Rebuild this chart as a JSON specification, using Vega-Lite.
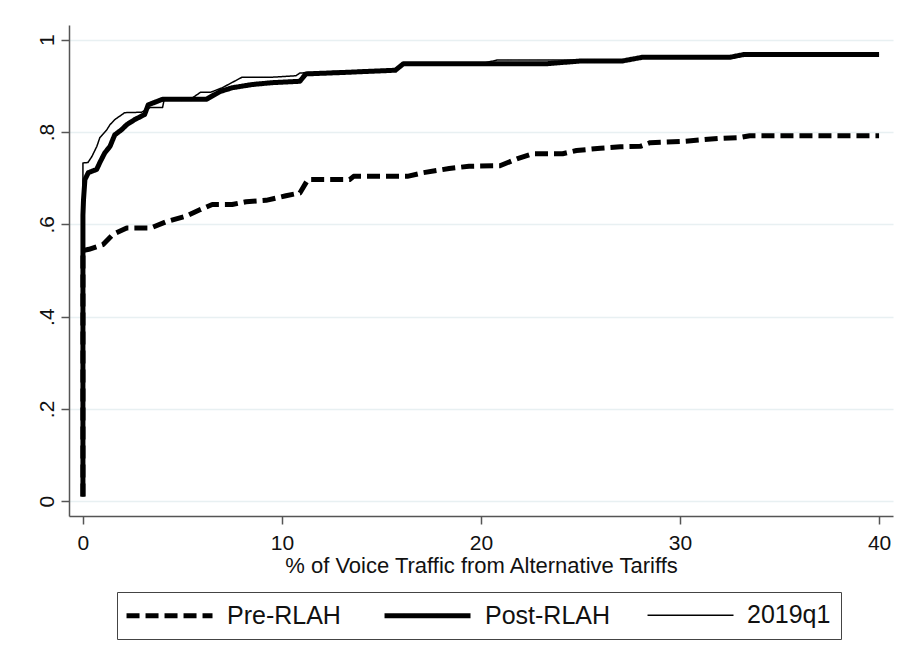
{
  "$schema": "https://vega.github.io/schema/vega-lite/v6.json",
  "width": 824,
  "height": 491,
  "autosize": {"type": "none"},
  "padding": {"left": 69, "top": 25, "right": 24, "bottom": 152},
  "background": "white",
  "config": {
    "font": "Liberation Sans",
    "view": {"stroke": null},
    "axis": {
      "domainColor": "#555555",
      "domainWidth": 1.5,
      "tickColor": "#555555",
      "tickWidth": 1.5,
      "tickSize": 8,
      "labelColor": "#111111",
      "titleColor": "#111111",
      "labelFont": "Liberation Sans",
      "titleFont": "Liberation Sans",
      "titleFontWeight": "normal"
    },
    "legend": {
      "labelFont": "Liberation Sans",
      "title": null,
      "orient": "none",
      "direction": "horizontal",
      "legendX": 48,
      "legendY": 567,
      "symbolType": "M-1.3,0H6.7",
      "symbolSize": 462,
      "symbolStrokeColor": "black",
      "symbolFillColor": "transparent",
      "labelFontSize": 25,
      "labelColor": "#111111",
      "labelOffset": 73,
      "columnPadding": 33,
      "padding": 10,
      "strokeColor": "#444444",
      "fillColor": "white"
    }
  },
  "data": {
    "values": [
      {"series": "Pre-RLAH", "x": 0, "y": 0.01},
      {"series": "Pre-RLAH", "x": 0, "y": 0.543},
      {"series": "Pre-RLAH", "x": 0.3, "y": 0.546},
      {"series": "Pre-RLAH", "x": 1.0, "y": 0.556},
      {"series": "Pre-RLAH", "x": 1.5, "y": 0.578},
      {"series": "Pre-RLAH", "x": 2.2, "y": 0.592},
      {"series": "Pre-RLAH", "x": 3.4, "y": 0.592},
      {"series": "Pre-RLAH", "x": 4.2, "y": 0.606},
      {"series": "Pre-RLAH", "x": 5.2, "y": 0.618},
      {"series": "Pre-RLAH", "x": 5.9, "y": 0.632},
      {"series": "Pre-RLAH", "x": 6.5, "y": 0.643},
      {"series": "Pre-RLAH", "x": 7.5, "y": 0.643},
      {"series": "Pre-RLAH", "x": 8.2, "y": 0.649},
      {"series": "Pre-RLAH", "x": 9.2, "y": 0.652},
      {"series": "Pre-RLAH", "x": 10.2, "y": 0.662},
      {"series": "Pre-RLAH", "x": 10.9, "y": 0.668},
      {"series": "Pre-RLAH", "x": 11.3, "y": 0.697},
      {"series": "Pre-RLAH", "x": 13.4, "y": 0.697},
      {"series": "Pre-RLAH", "x": 13.6, "y": 0.704},
      {"series": "Pre-RLAH", "x": 16.3, "y": 0.704},
      {"series": "Pre-RLAH", "x": 17.1, "y": 0.712},
      {"series": "Pre-RLAH", "x": 18.4, "y": 0.721},
      {"series": "Pre-RLAH", "x": 19.4, "y": 0.726},
      {"series": "Pre-RLAH", "x": 20.95, "y": 0.727},
      {"series": "Pre-RLAH", "x": 21.8, "y": 0.742},
      {"series": "Pre-RLAH", "x": 22.6, "y": 0.753},
      {"series": "Pre-RLAH", "x": 24.1, "y": 0.753},
      {"series": "Pre-RLAH", "x": 24.8, "y": 0.76},
      {"series": "Pre-RLAH", "x": 26.0, "y": 0.765},
      {"series": "Pre-RLAH", "x": 27.0, "y": 0.768},
      {"series": "Pre-RLAH", "x": 28.0, "y": 0.769},
      {"series": "Pre-RLAH", "x": 28.5, "y": 0.777},
      {"series": "Pre-RLAH", "x": 30.2, "y": 0.78},
      {"series": "Pre-RLAH", "x": 31.9, "y": 0.786},
      {"series": "Pre-RLAH", "x": 33.0, "y": 0.788},
      {"series": "Pre-RLAH", "x": 33.5, "y": 0.792},
      {"series": "Pre-RLAH", "x": 40, "y": 0.792},

      {"series": "Post-RLAH", "x": 0, "y": 0.01},
      {"series": "Post-RLAH", "x": 0, "y": 0.62},
      {"series": "Post-RLAH", "x": 0.03, "y": 0.654},
      {"series": "Post-RLAH", "x": 0.1, "y": 0.697},
      {"series": "Post-RLAH", "x": 0.27, "y": 0.712},
      {"series": "Post-RLAH", "x": 0.69, "y": 0.719},
      {"series": "Post-RLAH", "x": 0.85, "y": 0.734},
      {"series": "Post-RLAH", "x": 1.1, "y": 0.755},
      {"series": "Post-RLAH", "x": 1.36, "y": 0.769},
      {"series": "Post-RLAH", "x": 1.6, "y": 0.794},
      {"series": "Post-RLAH", "x": 1.94, "y": 0.805},
      {"series": "Post-RLAH", "x": 2.2, "y": 0.816},
      {"series": "Post-RLAH", "x": 2.6, "y": 0.827},
      {"series": "Post-RLAH", "x": 3.1, "y": 0.838},
      {"series": "Post-RLAH", "x": 3.28, "y": 0.859},
      {"series": "Post-RLAH", "x": 3.7, "y": 0.866},
      {"series": "Post-RLAH", "x": 4.0, "y": 0.871},
      {"series": "Post-RLAH", "x": 6.2, "y": 0.871},
      {"series": "Post-RLAH", "x": 6.9, "y": 0.888},
      {"series": "Post-RLAH", "x": 7.5, "y": 0.896},
      {"series": "Post-RLAH", "x": 8.5, "y": 0.903},
      {"series": "Post-RLAH", "x": 9.5, "y": 0.907},
      {"series": "Post-RLAH", "x": 10.9, "y": 0.91},
      {"series": "Post-RLAH", "x": 11.2, "y": 0.926},
      {"series": "Post-RLAH", "x": 13.0, "y": 0.929},
      {"series": "Post-RLAH", "x": 15.7, "y": 0.934},
      {"series": "Post-RLAH", "x": 16.1, "y": 0.948},
      {"series": "Post-RLAH", "x": 23.3, "y": 0.948},
      {"series": "Post-RLAH", "x": 25.0, "y": 0.954},
      {"series": "Post-RLAH", "x": 27.1, "y": 0.954},
      {"series": "Post-RLAH", "x": 28.1, "y": 0.962},
      {"series": "Post-RLAH", "x": 32.5, "y": 0.962},
      {"series": "Post-RLAH", "x": 33.2, "y": 0.968},
      {"series": "Post-RLAH", "x": 40, "y": 0.968},

      {"series": "2019q1", "x": 0, "y": 0.01},
      {"series": "2019q1", "x": 0, "y": 0.733},
      {"series": "2019q1", "x": 0.25, "y": 0.734},
      {"series": "2019q1", "x": 0.45, "y": 0.747},
      {"series": "2019q1", "x": 0.7, "y": 0.769},
      {"series": "2019q1", "x": 0.85, "y": 0.788},
      {"series": "2019q1", "x": 1.2, "y": 0.805},
      {"series": "2019q1", "x": 1.36, "y": 0.816},
      {"series": "2019q1", "x": 1.6, "y": 0.827},
      {"series": "2019q1", "x": 2.1, "y": 0.842},
      {"series": "2019q1", "x": 2.95, "y": 0.843},
      {"series": "2019q1", "x": 3.37, "y": 0.853},
      {"series": "2019q1", "x": 4.0, "y": 0.853},
      {"series": "2019q1", "x": 4.1, "y": 0.874},
      {"series": "2019q1", "x": 5.5, "y": 0.874},
      {"series": "2019q1", "x": 5.9, "y": 0.886},
      {"series": "2019q1", "x": 6.4, "y": 0.886},
      {"series": "2019q1", "x": 7.0, "y": 0.896},
      {"series": "2019q1", "x": 8.0, "y": 0.919},
      {"series": "2019q1", "x": 9.55, "y": 0.919},
      {"series": "2019q1", "x": 10.7, "y": 0.922},
      {"series": "2019q1", "x": 10.9, "y": 0.928},
      {"series": "2019q1", "x": 13.0, "y": 0.932},
      {"series": "2019q1", "x": 15.7, "y": 0.936},
      {"series": "2019q1", "x": 16.1, "y": 0.948},
      {"series": "2019q1", "x": 20.0, "y": 0.948},
      {"series": "2019q1", "x": 20.8, "y": 0.956},
      {"series": "2019q1", "x": 27.1, "y": 0.956},
      {"series": "2019q1", "x": 28.1, "y": 0.962},
      {"series": "2019q1", "x": 32.5, "y": 0.964},
      {"series": "2019q1", "x": 33.2, "y": 0.968},
      {"series": "2019q1", "x": 40, "y": 0.968}
    ]
  },
  "mark": {"type": "line", "color": "black", "strokeJoin": "round", "clip": true},
  "encoding": {
    "x": {
      "field": "x",
      "type": "quantitative",
      "scale": {"domain": [-0.7, 40.7], "nice": false, "zero": false},
      "axis": {
        "values": [0, 10, 20, 30, 40],
        "grid": false,
        "labelFontSize": 21,
        "labelPadding": 8,
        "title": "% of Voice Traffic from Alternative Tariffs",
        "titleFontSize": 22,
        "titlePadding": 2
      }
    },
    "y": {
      "field": "y",
      "type": "quantitative",
      "scale": {"domain": [-0.032, 1.032], "nice": false, "zero": false},
      "axis": {
        "values": [0, 0.2, 0.4, 0.6, 0.8, 1],
        "labelExpr": "datum.value == 0 ? '0' : datum.value == 1 ? '1' : replace(format(datum.value, '.1f'), '0.', '.')",
        "grid": true,
        "gridColor": "#e8f0f2",
        "gridWidth": 1.5,
        "labelAngle": 270,
        "labelAlign": "center",
        "labelBaseline": "alphabetic",
        "labelFontSize": 21,
        "labelPadding": 8,
        "title": null
      }
    },
    "order": [{"field": "x", "type": "quantitative"}, {"field": "y", "type": "quantitative"}],
    "strokeDash": {
      "field": "series",
      "type": "nominal",
      "scale": {"type": "ordinal", "domain": ["Pre-RLAH", "Post-RLAH", "2019q1"], "range": [[13, 6], [1, 0], [1, 0]]}
    },
    "strokeWidth": {
      "field": "series",
      "type": "nominal",
      "scale": {"type": "ordinal", "domain": ["Pre-RLAH", "Post-RLAH", "2019q1"], "range": [5, 5, 1.5]}
    }
  }
}
